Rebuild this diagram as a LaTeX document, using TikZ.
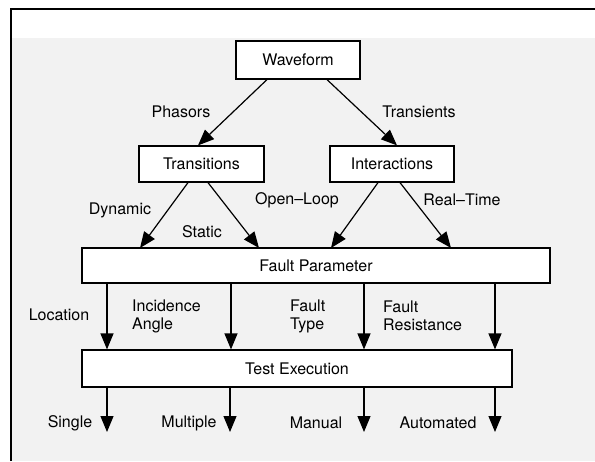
\documentclass[tikz,border=0pt]{standalone}
\usepackage{fontspec}
\setmainfont{TeX Gyre Heros}
\usetikzlibrary{arrows.meta}
\begin{document}
\begin{tikzpicture}[x=1pt,y=-1pt,
  box/.style={draw,line width=1.2pt,fill=white,inner sep=0pt,font=\fontsize{16}{18}\selectfont},
  lbl/.style={inner sep=0pt,font=\fontsize{16}{18}\selectfont},
  arr/.style={line width=1.2pt,-{Triangle[length=16pt,width=13pt]}}]
\useasboundingbox (0,0) rectangle (595,461);
\fill[white] (0,0) rectangle (595,461);
\fill[black!5] (11,38) rectangle (595,461);
\draw[line width=1.8pt] (11,461) -- (11,9) -- (595,9);
% boxes
\node[box,minimum width=124pt,minimum height=38pt] (wave) at (298,60) {Waveform};
\node[box,minimum width=125pt,minimum height=36pt] (trans) at (201.5,164) {Transitions};
\node[box,minimum width=124pt,minimum height=36pt] (inter) at (392,164) {Interactions};
\node[box,minimum width=468pt,minimum height=35pt] (fp) at (316,265.5) {Fault Parameter};
\node[box,minimum width=430pt,minimum height=37pt] (te) at (297,368.5) {Test Execution};
% top arrows
\draw[arr] ([xshift=-31pt]wave.south) -- ([xshift=-3.5pt]trans.north);
\draw[arr] ([xshift=29pt]wave.south) -- ([xshift=5pt]inter.north);
\node[lbl] (phasors) at (181,112) {Phasors};
\node[lbl] (transients) at (419,112) {Transients};
% middle arrows
\draw[arr] ([xshift=-13.5pt]trans.south) -- (140,248);
\draw[arr] ([xshift=6.5pt]trans.south) -- (259,248);
\draw[arr] ([xshift=-14pt]inter.south) -- (331,248);
\draw[arr] ([xshift=8pt]inter.south) -- (451,248);
\node[lbl] (dyn) at (120,210) {Dynamic};
\node[lbl] (static) at (202,232) {Static};
\node[lbl] (open) at (297,200) {Open--Loop};
\node[lbl] (real) at (462,200) {Real--Time};
% fp -> te
\foreach \x/\n in {107/a,231/b,364/c,495/d}{
  \coordinate (top\n) at (\x,265);
  \draw[arr] (fp.south -| top\n) -- (te.north -| top\n);
}
\node[lbl] (loc) at (59,315) {Location};
\node[lbl,anchor=west,align=left] (inc) at (132,316) {Incidence\\Angle};
\node[lbl,anchor=west,align=left] (ftype) at (290,316) {Fault\\Type};
\node[lbl,anchor=west,align=left] (fres) at (383,316) {Fault\\Resistance};
% te -> outputs
\foreach \x/\n in {107/a,230/b,364/c,495/d}{
  \coordinate (out\n) at (\x,432);
  \draw[arr] (te.south -| out\n) -- (out\n);
}
\node[lbl] (single) at (70,423) {Single};
\node[lbl] (multiple) at (189,423) {Multiple};
\node[lbl] (manual) at (316,423) {Manual};
\node[lbl] (auto) at (438,423) {Automated};
\end{tikzpicture}
\end{document}
